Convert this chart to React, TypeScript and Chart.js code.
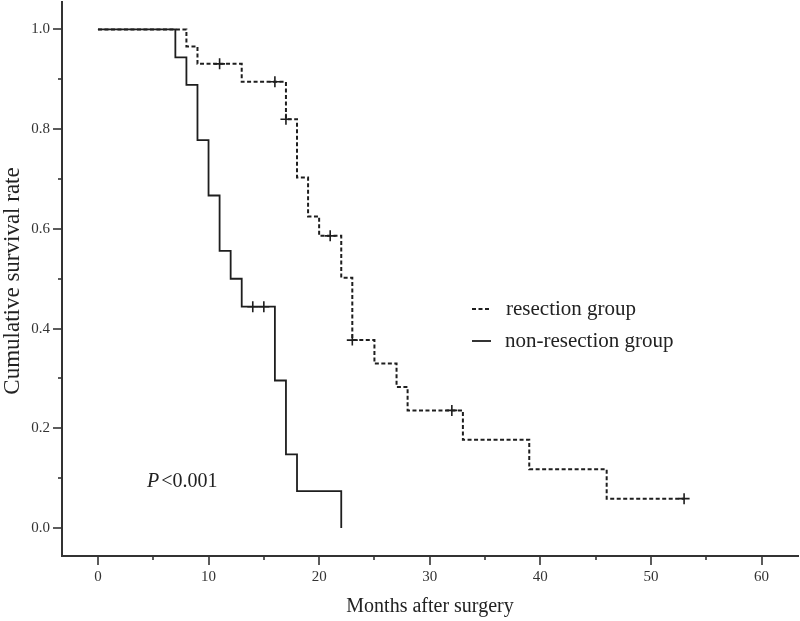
import React, { useEffect, useRef } from "react";
import { Chart, registerables } from "chart.js";

Chart.register(...registerables);

// Kaplan-Meier step data (time in months, cumulative survival)
const resectionTimes = [0, 8, 9, 13, 17, 18, 19, 20, 22, 23, 25, 27, 28, 33, 39, 46, 53];
const resectionSurvival = [1.0, 0.966, 0.931, 0.895, 0.82, 0.703, 0.625, 0.586, 0.502, 0.377, 0.33, 0.283, 0.236, 0.177, 0.118, 0.059, 0.059];

const nonResectionTimes = [0, 7, 8, 9, 10, 11, 12, 13, 16, 17, 18, 22];
const nonResectionSurvival = [1.0, 0.944, 0.889, 0.778, 0.667, 0.556, 0.5, 0.444, 0.296, 0.148, 0.074, 0.0];

// Censored observations
const resectionCensorTimes = [11, 16, 17, 21, 23, 32, 53];
const resectionCensorSurvival = [0.931, 0.895, 0.82, 0.586, 0.377, 0.236, 0.059];
const nonResectionCensorTimes = [14, 15];
const nonResectionCensorSurvival = [0.444, 0.444];

// Axis ticks
const xMajorTicks = [0, 10, 20, 30, 40, 50, 60];
const xMinorTicks = [5, 15, 25, 35, 45, 55];
const yMajorTicks = [0, 0.2, 0.4, 0.6, 0.8, 1.0];
const yMinorTicks = [0.1, 0.3, 0.5, 0.7, 0.9];

const legendLabels = ["resection group", "non-resection group"];
const xTitle = "Months after surgery";
const yTitle = "Cumulative survival rate";

const SERIF = "'Liberation Serif', 'Times New Roman', 'DejaVu Serif', serif";
const INK = "#1e1e1e";

const zip = (xs: number[], ys: number[]) => xs.map((x, i) => ({ x, y: ys[i] }));

const decorPlugin = {
  id: "decor",
  afterDraw(chart: any) {
    const ctx = chart.ctx as CanvasRenderingContext2D;
    const xs = chart.scales.x;
    const ys = chart.scales.y;
    const { left, bottom } = chart.chartArea;
    ctx.save();
    ctx.strokeStyle = "#333";
    ctx.lineWidth = 1.6;
    // y tick marks
    const yt = (v: number, len: number) => {
      const py = Math.round(ys.getPixelForValue(v));
      ctx.beginPath();
      ctx.moveTo(left - len, py);
      ctx.lineTo(left, py);
      ctx.stroke();
    };
    yMajorTicks.forEach((v) => yt(v, 9));
    yMinorTicks.forEach((v) => yt(v, 4));
    // x tick marks
    const xt = (v: number, len: number) => {
      const px = Math.round(xs.getPixelForValue(v));
      ctx.beginPath();
      ctx.moveTo(px, bottom);
      ctx.lineTo(px, bottom + len);
      ctx.stroke();
    };
    xMajorTicks.forEach((v) => xt(v, 9));
    xMinorTicks.forEach((v) => xt(v, 4));

    // axis titles
    ctx.fillStyle = "#222";
    ctx.textBaseline = "middle";
    ctx.textAlign = "center";
    ctx.font = `20px ${SERIF}`;
    ctx.fillText(xTitle, 430, 607);
    ctx.save();
    ctx.translate(13, 281);
    ctx.rotate(-Math.PI / 2);
    ctx.font = `23px ${SERIF}`;
    ctx.fillText(yTitle, 0, 0);
    ctx.restore();

    // legend
    ctx.textAlign = "left";
    ctx.font = `21px ${SERIF}`;
    ctx.strokeStyle = INK;
    ctx.lineWidth = 1.8;
    ctx.setLineDash([4, 2.5]);
    ctx.beginPath();
    ctx.moveTo(472, 309);
    ctx.lineTo(490, 309);
    ctx.stroke();
    ctx.setLineDash([]);
    ctx.beginPath();
    ctx.moveTo(472, 341);
    ctx.lineTo(491, 341);
    ctx.stroke();
    ctx.fillText(legendLabels[0], 506, 309);
    ctx.fillText(legendLabels[1], 505, 341);

    // P value
    ctx.font = `italic 20px ${SERIF}`;
    ctx.fillText("P", 147, 482);
    const pw = ctx.measureText("P").width;
    ctx.font = `20px ${SERIF}`;
    ctx.fillText("<0.001", 147 + pw + 2, 482);
    ctx.restore();
  },
};

export default function App() {
  const canvasRef = useRef<HTMLCanvasElement | null>(null);

  useEffect(() => {
    if (!canvasRef.current) return;
    const chart = new Chart(canvasRef.current, {
      type: "scatter",
      data: {
        datasets: [
          {
            label: legendLabels[0],
            data: zip(resectionTimes, resectionSurvival),
            showLine: true,
            stepped: true,
            borderColor: INK,
            borderWidth: 2,
            borderDash: [4, 2.5],
            pointRadius: 0,
            fill: false,
          },
          {
            label: legendLabels[1],
            data: zip(nonResectionTimes, nonResectionSurvival),
            showLine: true,
            stepped: true,
            borderColor: INK,
            borderWidth: 1.8,
            pointRadius: 0,
            fill: false,
          },
          {
            label: "resection censored",
            data: zip(resectionCensorTimes, resectionCensorSurvival),
            showLine: false,
            pointStyle: "cross",
            pointRadius: 5.5,
            borderColor: INK,
            borderWidth: 1.6,
            backgroundColor: INK,
          },
          {
            label: "non-resection censored",
            data: zip(nonResectionCensorTimes, nonResectionCensorSurvival),
            showLine: false,
            pointStyle: "cross",
            pointRadius: 5.5,
            borderColor: INK,
            borderWidth: 1.6,
            backgroundColor: INK,
          },
        ],
      },
      options: {
        responsive: false,
        animation: false,
        layout: { autoPadding: false, padding: { left: 0, top: 2, right: 2, bottom: 0 } },
        plugins: { legend: { display: false }, tooltip: { enabled: false } },
        scales: {
          x: {
            type: "linear",
            min: -3.25,
            max: 63.3,
            afterFit: (s: any) => {
              s.height = 65;
              s.paddingLeft = 0;
              s.paddingRight = 0;
            },
            afterBuildTicks: (s: any) => {
              s.ticks = xMajorTicks.map((v) => ({ value: v }));
            },
            grid: { display: false, drawTicks: true, tickLength: 9 },
            border: { display: true, color: "#333", width: 2 },
            ticks: {
              color: "#333",
              font: { family: SERIF, size: 15 },
              padding: 3,
              maxRotation: 0,
              autoSkip: false,
              callback: (v: any) => String(v),
            },
          },
          y: {
            type: "linear",
            min: -0.056,
            max: 1.055,
            afterFit: (s: any) => {
              s.width = 62;
              s.paddingTop = 0;
              s.paddingBottom = 0;
            },
            afterBuildTicks: (s: any) => {
              s.ticks = yMajorTicks.map((v) => ({ value: v }));
            },
            grid: { display: false, drawTicks: true, tickLength: 9 },
            border: { display: true, color: "#333", width: 2 },
            ticks: {
              color: "#333",
              font: { family: SERIF, size: 15 },
              padding: 3,
              autoSkip: false,
              callback: (v: any) => Number(v).toFixed(1),
            },
          },
        },
      },
      plugins: [decorPlugin],
    });
    return () => chart.destroy();
  }, []);

  return (
    <div style={{ position: "fixed", left: 0, top: 0, width: 800, height: 621, background: "#fff" }}>
      <canvas ref={canvasRef} width={800} height={621} />
    </div>
  );
}
